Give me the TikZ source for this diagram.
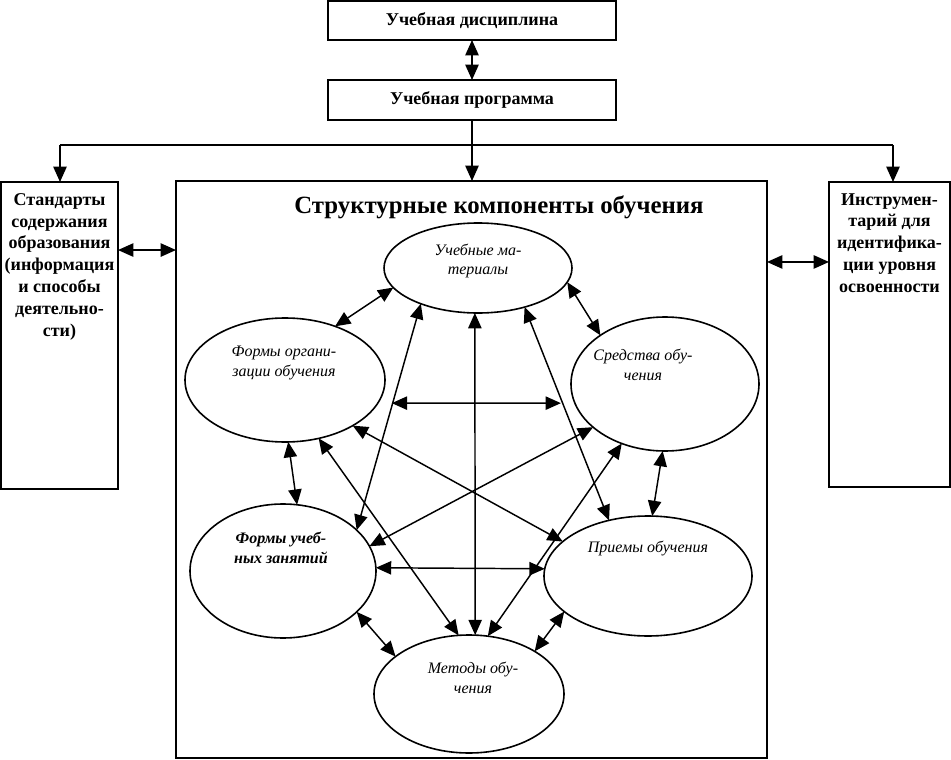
\documentclass[tikz,border=0pt]{standalone}
\usepackage{fontspec}
\setmainfont{Liberation Serif}
\usetikzlibrary{arrows.meta}
\usetikzlibrary{shapes.geometric}

\tikzset{
  box/.style={draw, line width=1.5pt, inner sep=0pt, outer sep=0pt, align=center, font=\bfseries\fontsize{13.5}{16}\selectfont},
  sidetext/.style={inner sep=0pt, align=center, font=\bfseries\fontsize{13.5}{16.4}\selectfont},
  comp/.style={draw, ellipse, line width=1.2pt, inner sep=0pt, outer sep=0pt},
  comptext/.style={inner sep=0.75pt, align=center, font=\itshape\fontsize{12}{14.6}\selectfont},
  biarrow/.style={{Triangle[length=11.5pt,width=10pt]}-{Triangle[length=11.5pt,width=10pt]}, line width=1.1pt},
  toarrow/.style={-{Triangle[length=11.5pt,width=10pt]}, line width=1.1pt},
}

\begin{document}
\begin{tikzpicture}[x=0.75pt,y=0.75pt,yscale=-1,xscale=1]
\useasboundingbox (0,0) rectangle (951,760);

%Shape: Rectangle
\node[box, minimum width=216pt, minimum height=29.25pt] (disc) at (472,20.5) {Учебная дисциплина};
%Shape: Rectangle
\node[box, minimum width=216pt, minimum height=30pt] (prog) at (472,100) {Учебная программа};
%Shape: Rectangle
\node[box, minimum width=87.75pt, minimum height=230.25pt] (std) at (59.5,335.5) {};
%Shape: Rectangle
\node[box, minimum width=90.75pt, minimum height=228.75pt] (instr) at (889.5,334.5) {};
%Shape: Rectangle
\node[box, minimum width=443.25pt, minimum height=432.75pt] (main) at (471.5,469.5) {};

% Text Node
\node[sidetext, anchor=north] (stdtxt) at (59.5,193) {Стандарты\\содержания\\образования\\(информация\\и способы\\деятельно-\\сти)};
% Text Node
\node[sidetext, anchor=north] (instrtxt) at (889.5,193) {Инструмен-\\тарий для\\идентифика-\\ции уровня\\освоенности};
% Text Node
\node[inner sep=0pt, font=\bfseries\fontsize{18.6}{22}\selectfont] (title) at (499,207) {Структурные компоненты обучения};

%Shape: Ellipse
\node[comp, minimum width=141pt, minimum height=67.5pt] (um) at (478,268) {};
%Shape: Ellipse
\node[comp, minimum width=150pt, minimum height=93pt] (fo) at (285,380) {};
%Shape: Ellipse
\node[comp, minimum width=141pt, minimum height=100.5pt] (sr) at (665,384) {};
%Shape: Ellipse
\node[comp, minimum width=139.5pt, minimum height=100.5pt] (fz) at (283,571) {};
%Shape: Ellipse
\node[comp, minimum width=156pt, minimum height=90pt] (pr) at (648,576) {};
%Shape: Ellipse
\node[comp, minimum width=142.5pt, minimum height=88.5pt] (me) at (469,694) {};

% Text Node
\node[comptext] (umtxt) at (478,261) {Учебные ма-\\териалы};
% Text Node
\node[comptext] (fotxt) at (284,363) {Формы органи-\\зации обучения};
% Text Node
\node[comptext] (srtxt) at (643,365) {Средства обу-\\чения};
% Text Node
\node[comptext, font=\bfseries\itshape\fontsize{12}{14.6}\selectfont] (fztxt) at (281,548) {Формы учеб-\\ных занятий};
% Text Node
\node[comptext] (prtxt) at (648,548) {Приемы обучения};
% Text Node
\node[comptext] (metxt) at (473,678) {Методы обу-\\чения};

\coordinate (lt) at (60,145);
\coordinate (rt) at (893,145);

%Straight Lines
\draw[biarrow] (disc) -- (prog);
%Straight Lines
\draw[toarrow] (prog.south) -- (prog.south |- main.north);
%Straight Lines
\draw[line width=1.1pt] (lt) -- (rt);
%Straight Lines
\draw[toarrow] (lt) -- (lt |- std.north);
%Straight Lines
\draw[toarrow] (rt) -- (rt |- instr.north);
%Straight Lines
\draw[biarrow] ([yshift=-64.1pt]std.east) -- ([yshift=-64.1pt]std.east -| main.west);
%Straight Lines
\draw[biarrow] ([yshift=-54.4pt]instr.west) -- ([yshift=-54.4pt]instr.west -| main.east);

%Straight Lines
\draw[biarrow] (um.193) -- (fo.47);
\draw[biarrow] (um.351) -- (sr.143);
\draw[biarrow] (um.266) -- (me.84);
\draw[biarrow] (um.212) -- (fz.29);
\draw[biarrow] (um.320) -- (pr.125);
\draw[biarrow, shorten <=10.5pt, shorten >=10.5pt] (fo.346) -- (sr.192);
\draw[biarrow] (fo.326) -- (pr.158);
\draw[biarrow] (fo.273) -- (fz.78);
\draw[biarrow] (fo.300) -- (me.100);
\draw[biarrow] (sr.211) -- (fz.16);
\draw[biarrow] (sr.268) -- (pr.86);
\draw[biarrow] (sr.234) -- (me.72);
\draw[biarrow] (fz.2) -- (pr.176);
\draw[biarrow] (fz.331) -- (me.153);
\draw[biarrow] (pr.203) -- (me.33);

\end{tikzpicture}
\end{document}
